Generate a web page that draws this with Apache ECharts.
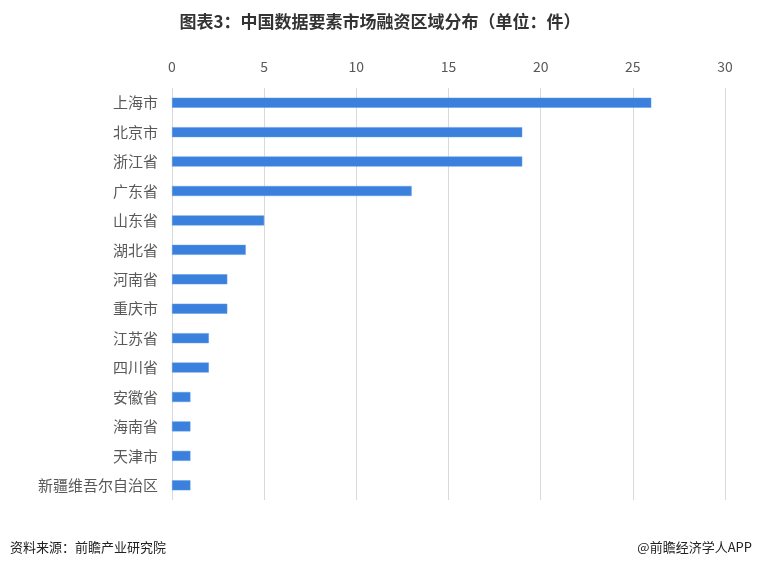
<!DOCTYPE html>
<html>
<head>
<meta charset="utf-8">
<script src="https://cdn.jsdelivr.net/npm/echarts@6/dist/echarts.min.js"></script>
<style>
  html, body { margin: 0; padding: 0; background: #fff; }
  #chart { width: 760px; height: 565px; }
</style>
</head>
<body>
<div id="chart"></div>
<script>
var regions = ["上海市", "北京市", "浙江省", "广东省", "山东省", "湖北省", "河南省",
    "重庆市", "江苏省", "四川省", "安徽省", "海南省", "天津市", "新疆维吾尔自治区"];
var counts = [26, 19, 19, 13, 5, 4, 3, 3, 2, 2, 1, 1, 1, 1];

var fontCN = "'Microsoft YaHei', 'Noto Sans CJK SC', sans-serif";

var chart = echarts.init(document.getElementById("chart"));
chart.setOption({
    animation: false,
    textStyle: { fontFamily: fontCN },
    title: [
        {
            text: "图表3：中国数据要素市场融资区域分布（单位：件）",
            left: "center",
            top: 8,
            textStyle: { fontSize: 17, fontWeight: "bold", color: "#333", fontFamily: fontCN }
        },
        {
            text: "资料来源：前瞻产业研究院",
            left: 5,
            top: 536,
            textStyle: { fontSize: 13, fontWeight: "normal", color: "#222", fontFamily: fontCN }
        },
        {
            text: "@前瞻经济学人APP",
            right: 3,
            top: 536,
            textStyle: { fontSize: 13, fontWeight: "normal", color: "#222", fontFamily: fontCN }
        }
    ],
    grid: { left: 172, right: 35, top: 88, bottom: 65, containLabel: false },
    xAxis: {
        type: "value",
        position: "top",
        min: 0,
        max: 30,
        interval: 5,
        axisLine: { show: false },
        axisTick: { show: false },
        axisLabel: { color: "#595959", fontSize: 14, margin: 14 },
        splitLine: { lineStyle: { color: "#d9d9d9", width: 1 } }
    },
    yAxis: {
        type: "category",
        inverse: true,
        data: regions,
        axisLine: { show: false },
        axisTick: { show: false },
        axisLabel: { color: "#595959", fontSize: 15, margin: 14 }
    },
    series: [
        {
            type: "bar",
            data: counts,
            barWidth: 10,
            itemStyle: { color: "#3a80dc", borderColor: "#5b9be6", borderWidth: 0.5 }
        }
    ]
});
</script>
</body>
</html>
